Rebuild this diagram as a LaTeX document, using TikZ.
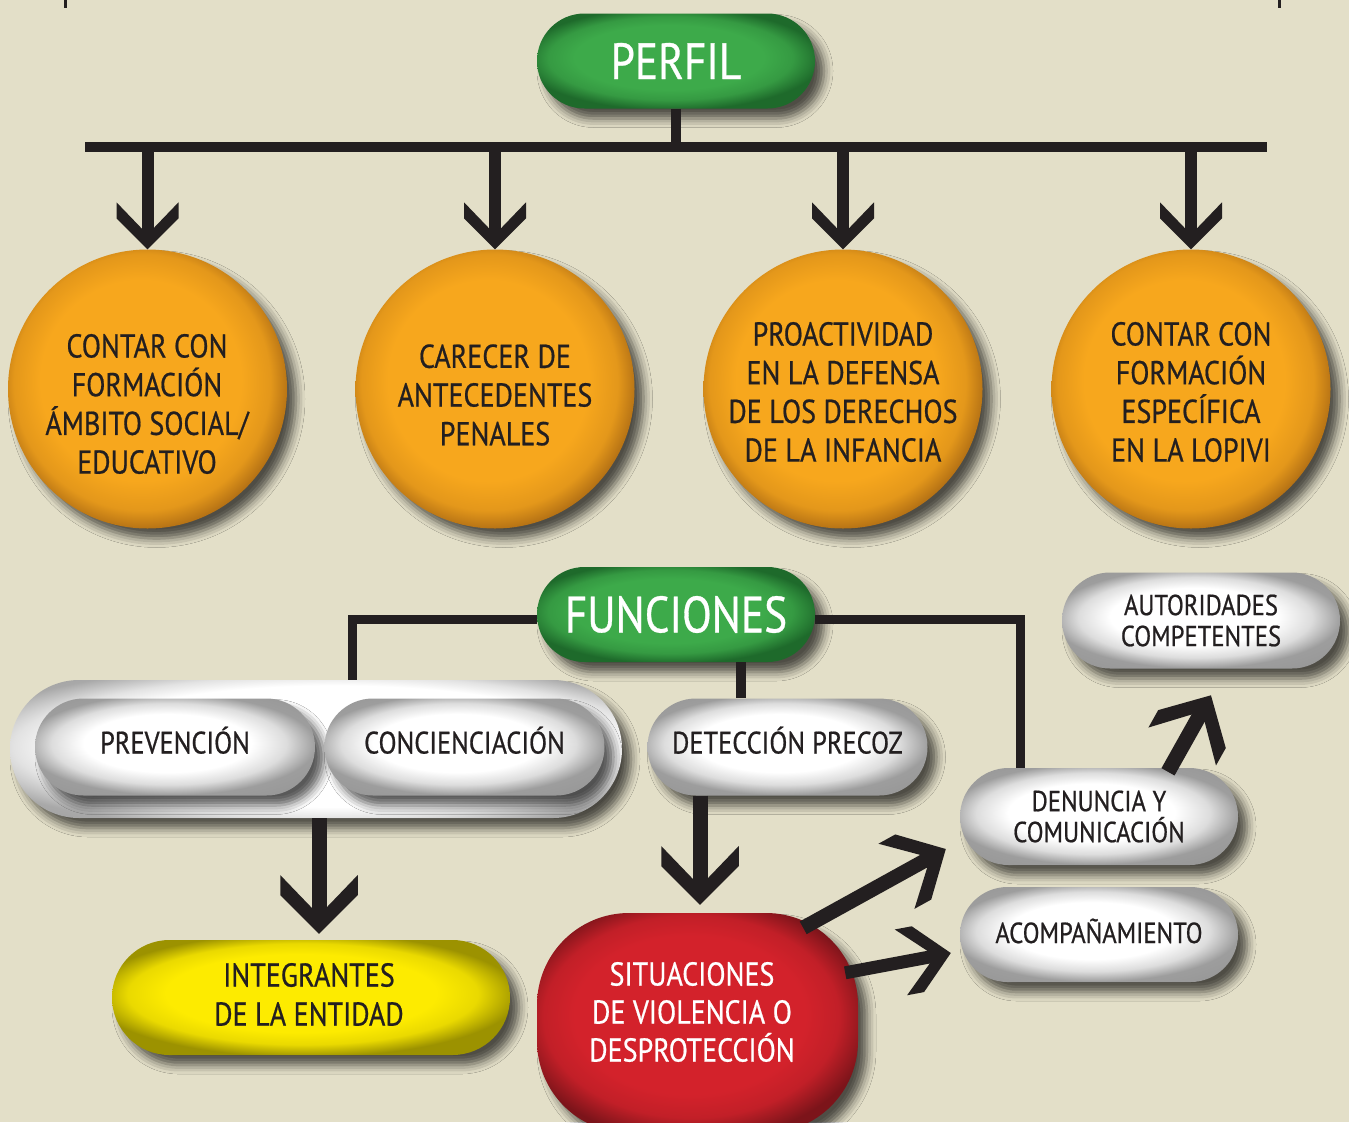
\documentclass[tikz,border=0pt]{standalone}
\usepackage{fontspec}
\setmainfont{PT Sans}[FakeStretch=0.85, FakeBold=0.6]
\usetikzlibrary{shapes.misc,shadows.blur,decorations.markings}
\definecolor{bg}{HTML}{E3DFC8}
\definecolor{ink}{HTML}{231F20}
\definecolor{grn}{HTML}{3DAA4A}
\definecolor{grnd}{HTML}{1E6A2B}
\definecolor{org}{HTML}{F7A71D}
\definecolor{orgd}{HTML}{A96813}
\definecolor{ylw}{HTML}{FDEB00}
\definecolor{ylwd}{HTML}{9C9200}
\definecolor{rd}{HTML}{D3222B}
\definecolor{rdd}{HTML}{7C141A}
\definecolor{gry}{HTML}{8C8C8C}
\pgfdeclareradialshading{shgreen}{\pgfpoint{-2bp}{3bp}}{color(0bp)=(grn); color(17bp)=(grn); color(22bp)=(grn!75!grnd); color(27bp)=(grnd); color(45bp)=(grnd)}
\pgfdeclareradialshading{shorange}{\pgfpoint{-2bp}{2.5bp}}{color(0bp)=(org); color(18bp)=(org); color(23bp)=(org!75!orgd); color(27bp)=(orgd); color(45bp)=(orgd)}
\pgfdeclareradialshading{shwhite}{\pgfpoint{-2bp}{3bp}}{color(0bp)=(white); color(15bp)=(white); color(21bp)=(gry!30!white); color(26bp)=(gry!85!white); color(45bp)=(gry)}
\pgfdeclareradialshading{shouter}{\pgfpoint{3bp}{2bp}}{color(0bp)=(white); color(22bp)=(white); color(26bp)=(gry!25!white); color(31bp)=(gry!75!white); color(45bp)=(gry)}
\pgfdeclareradialshading{shyellow}{\pgfpoint{-2bp}{3bp}}{color(0bp)=(ylw); color(17bp)=(ylw); color(22bp)=(ylw!80!ylwd); color(27bp)=(ylwd); color(45bp)=(ylwd)}
\pgfdeclareradialshading{shred}{\pgfpoint{-2bp}{3bp}}{color(0bp)=(rd); color(18bp)=(rd); color(23bp)=(rd!80!rdd); color(28bp)=(rdd); color(45bp)=(rdd)}
\tikzset{
  shad/.style={blur shadow={shadow xshift=9pt, shadow yshift=-10pt, shadow blur radius=9pt, shadow opacity=65}},
  gpill/.style={rounded rectangle, shade, shading=shgreen, shad, text=white, inner sep=0pt,
    minimum width=278pt, minimum height=95pt, font=\fontsize{51}{56}\selectfont},
  ball/.style={circle, shade, shading=shorange, shad, minimum size=279pt, inner sep=0pt},
  balltext/.style={text=ink, align=center, inner sep=0pt, font=\fontsize{33}{38.7}\selectfont},
  wpill/.style={rounded rectangle, shade, shading=shwhite, shad, text=ink, inner sep=0pt, align=center,
    minimum width=280pt, minimum height=97pt, font=\fontsize{31}{34}\selectfont},
  onel/.style={text height=21pt, text depth=8pt},
  spill/.style={wpill, font=\fontsize{29}{31}\selectfont},
  ypill/.style={rounded rectangle, shade, shading=shyellow, shad, inner sep=0pt,
    minimum width=398pt, minimum height=115pt},
  ytext/.style={text=ink, align=center, inner sep=0pt, font=\fontsize{33}{39}\selectfont},
  redblob/.style={rectangle, rounded corners=92pt, shade, shading=shred, shad, minimum width=321pt, minimum height=220pt},
  redtext/.style={text=white, align=center, inner sep=0pt, font=\fontsize{33}{38}\selectfont},
  conn/.style={draw=ink, line width=9pt},
  bigarrow/.style={draw=ink, line width=12*#1, shorten >=12*#1,
    postaction={decorate, decoration={markings, mark=at position 1 with {
      \fill[ink] (0,0) -- (-31*#1,31*#1) -- (-47*#1,31*#1) -- (-21*#1,6*#1) -- (-21*#1,-6*#1)
        -- (-47*#1,-31*#1) -- (-31*#1,-31*#1) -- cycle;}}}}
}
\begin{document}
\begin{tikzpicture}[x=1pt,y=-1pt]
\fill[bg] (0,0) rectangle (1349,1122);
\useasboundingbox (0,0) rectangle (1349,1122);
\clip (0,0) rectangle (1349,1122);
\coordinate (tk1) at (65,0); \coordinate (tk1b) at (65,8);
\coordinate (tk2) at (1279,0); \coordinate (tk2b) at (1279,8);
\draw[ink, line width=3pt] (tk1) -- (tk1b);
\draw[ink, line width=3pt] (tk2) -- (tk2b);

% nodes
\node[gpill] (perfil) at (676,61) {PERFIL};
\node[ball] (c1) at (147.5,389) {};
\node[ball] (c2) at (495,389) {};
\node[ball] (c3) at (843,389) {};
\node[ball] (c4) at (1191,389) {};
\node[balltext] (t1) at (147,404) {CONTAR CON\\FORMACIÓN\\ÁMBITO SOCIAL/\\EDUCATIVO};
\node[balltext] (t2) at (495,395) {CARECER DE\\ANTECEDENTES\\PENALES};
\node[balltext] (t3) at (843,392) {PROACTIVIDAD\\EN LA DEFENSA\\DE LOS DERECHOS\\DE LA INFANCIA};
\node[balltext] (t4) at (1191,392) {CONTAR CON\\FORMACIÓN\\ESPECÍFICA\\EN LA LOPIVI};

\node[gpill] (fun) at (676,614.5) {FUNCIONES};
\node[wpill, shading=shouter, minimum width=612pt, minimum height=138pt] (outer) at (316,749) {};
\node[wpill, onel] (prev) at (175,747) {PREVENCIÓN};
\node[wpill, onel] (conc) at (464.5,747) {CONCIENCIACIÓN};
\node[wpill, onel] (det) at (787.5,747) {DETECCIÓN PRECOZ};
\node[spill, minimum width=278pt, minimum height=96pt] (aut) at (1201,620.5) {AUTORIDADES\\COMPETENTES};
\node[spill, minimum width=278pt] (den) at (1099,816.5) {DENUNCIA Y\\COMUNICACIÓN};
\node[spill, minimum width=278pt, minimum height=95pt, text height=20pt, text depth=3pt] (aco) at (1099,934.5) {ACOMPAÑAMIENTO};
\node[ypill] (integ) at (311,997.5) {};
\node[ytext] (integt) at (309,994.5) {INTEGRANTES\\DE LA ENTIDAD};
\node[redblob] (sit) at (697.5,1023) {};
\node[redtext] (sitt) at (692,1012) {SITUACIONES\\DE VIOLENCIA O\\DESPROTECCIÓN};

% connectors
\coordinate (bl) at (85,147);
\coordinate (br) at (1267,147);
\draw[conn, line width=10pt] (perfil.south) -- (perfil.south |- bl);
\draw[conn, line width=10pt] (bl) -- (br);
\draw[bigarrow=1] (c1.north |- bl) -- (c1.north);
\draw[bigarrow=1] (c2.north |- bl) -- (c2.north);
\draw[bigarrow=1] (c3.north |- bl) -- (c3.north);
\draw[bigarrow=1] (c4.north |- bl) -- (c4.north);

\draw[conn] ([yshift=-5pt]fun.west) -| ([xshift=36pt]outer.north);
\draw[conn] ([yshift=-5pt]fun.east) -| ([xshift=-79pt]den.north);
\draw[conn, line width=10pt] ([xshift=65pt]fun.south) -- ([xshift=-46.5pt]det.north);

\draw[bigarrow=1.25] ([xshift=3pt]outer.south) -- ([xshift=8pt,yshift=6pt]integ.north);
\draw[bigarrow=1.25] ([xshift=-87.5pt]det.south) -- ([xshift=2.5pt,yshift=8pt]sit.north);
\draw[bigarrow=1.2] ([xshift=-55pt,yshift=-15pt]sit.north east) -- ([xshift=-14pt,yshift=-32.5pt]den.west);
\draw[bigarrow=1.08] ([xshift=-13pt,yshift=-60pt]sit.north east) -- ([xshift=-9pt,yshift=-18.5pt]aco.west);
\draw[bigarrow=1.25] ([xshift=69pt,yshift=-4pt]den.north) -- ([xshift=10pt,yshift=-26.5pt]aut.south);
\end{tikzpicture}
\end{document}
